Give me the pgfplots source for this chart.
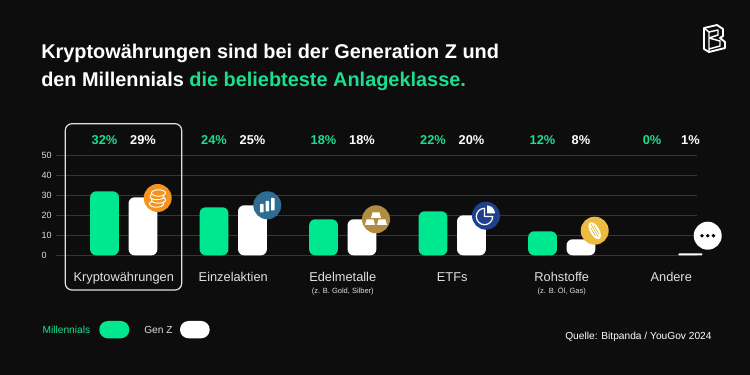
\documentclass[border=0pt]{standalone}
\usepackage{pgfplots}
\pgfplotsset{compat=1.18}
\usepackage{fontspec}
\setmainfont{Liberation Sans}
\definecolor{bg}{HTML}{0D0D0D}
\definecolor{mint}{HTML}{00E88F}
\definecolor{mintt}{HTML}{1ADF92}
\definecolor{gridc}{HTML}{363636}
\definecolor{ltxt}{HTML}{E0E0E0}
\definecolor{HTMLorange}{HTML}{F39420}
\definecolor{HTMLblue}{HTML}{2F6C92}
\definecolor{HTMLgold}{HTML}{B08D40}
\definecolor{HTMLnavy}{HTML}{1F3F8F}
\definecolor{HTMLyellow}{HTML}{EDBB3F}
\newcommand{\px}[1]{\fontsize{\dimexpr#1pt*3/4\relax}{\dimexpr#1pt*9/10\relax}\selectfont}
\newcommand{\subl}[1]{\\[-2.4pt]{\px{7.5}\color{ltxt}#1}}
\pgfplotstableread{
k val
0 32
1 24
2 18
3 22
4 12
}\millennials
\pgfplotstableread{
k val
5 0
}\millennialsother
\pgfplotstableread{
k val
0 29
1 25
2 18
3 20
4 8
}\genz
\pgfplotstableread{
k val
5 1
}\genzother
\begin{document}
\begin{tikzpicture}
\useasboundingbox (0,0) rectangle (562.5pt,281.25pt);
\fill[bg] (0,0) rectangle (562.5pt,281.25pt);
\begin{axis}[
  at={(42pt,89.775pt)}, anchor=south west,
  scale only axis, width=480.75pt, height=75pt,
  xmin=-0.6187, xmax=5.2352, ymin=0, ymax=50,
  clip=false,
  axis line style={draw=none},
  ytick={0,10,20,30,40,50},
  ymajorgrids, grid style={gridc, line width=0.6pt},
  major tick length=0pt,
  xtick={0,1,2,3,4,5},
  xticklabels={{Kryptowährungen\subl{~}},{Einzelaktien\subl{~}},
    {Edelmetalle\subl{(z. B. Gold, Silber)}},
    {ETFs\subl{~}},
    {Rohstoffe\subl{(z. B. Öl, Gas)}},
    {Andere\subl{~}}},
  xticklabel style={font=\px{12.8}, text=ltxt, align=center, anchor=north, yshift=-12.5pt, inner sep=0pt,
    execute at begin node=\strut},
  yticklabel style={font=\px{9}, text=ltxt, anchor=west, inner sep=0pt, xshift=-11pt},
  /pgf/number format/assume math mode=true,
  ybar, bar width=21.6pt,
  visualization depends on={y \as \yval},
  nodes near coords={\pgfmathprintnumber{\pgfplotspointmeta}\%},
  every node near coord/.append style={font=\bfseries\px{12.8}, anchor=center, inner sep=0pt,
    shift={(0pt,{(57.6-\yval)*1.5pt})}},
]
\addplot[bar shift=-14.4pt, fill=mint, draw=none, rounded corners=4.5pt,
  nodes near coords style={text=mintt}] table[x=k,y=val] {\millennials};
\addplot[bar shift=14.4pt, fill=white, draw=none, rounded corners=4.5pt,
  nodes near coords style={text=white}] table[x=k,y=val] {\genz};
\addplot[bar shift=-14.4pt, fill=none, draw=none,
  nodes near coords style={text=mintt}] table[x=k,y=val] {\millennialsother};
\addplot[bar shift=14.4pt, fill=white, draw=none, rounded corners=0.6pt, bar width=18pt,
  nodes near coords style={text=white}] table[x=k,y=val] {\genzother};
\end{axis}
\begin{scope}[shift={(0,281.25pt)}, x=0.75pt, y=-0.75pt]
  % highlight
  \draw[ltxt, line width=0.9pt, rounded corners=5pt] (65.3,123.7) rectangle (181.7,290);
  % title
  \node[anchor=base west, inner sep=0, text=white, font=\bfseries\px{19.9}] at (41,59) {Kryptowährungen sind bei der Generation Z und};
  \node[anchor=base west, inner sep=0, text=white, font=\bfseries\px{19.9}] at (41,87) {den Millennials \textcolor{mintt}{die beliebteste Anlageklasse.}};
  % icons
  \fill[HTMLorange] (157.7,198) circle (14);
  \foreach \yy/\xx in {204/156.5,200/158.5,196.5/157,193/158.5}{
    \draw[white, line width=0.7pt, fill=HTMLorange] (\xx,\yy) ellipse (7 and 3.2);
  }
  \fill[HTMLblue] (267.3,205.3) circle (14);
  \fill[white, rounded corners=0.5pt] (260,204) rectangle (263.5,212.5);
  \fill[white, rounded corners=0.5pt] (265.5,201) rectangle (269,211.5);
  \fill[white, rounded corners=0.5pt] (271,198) rectangle (274.5,210.5);
  \fill[HTMLgold] (376,219.3) circle (14);
  \fill[white] (372.5,212.5) -- (379.5,212.5) -- (381,218) -- (371,218) -- cycle;
  \fill[white] (366.5,219.5) -- (373.5,219.5) -- (375,225) -- (365,225) -- cycle;
  \fill[white] (378.5,219.5) -- (385.5,219.5) -- (387,225) -- (377,225) -- cycle;
  \fill[HTMLnavy] (486,215.7) circle (14);
  \draw[white, line width=0.9pt, line join=round] (492.7,216.5) arc[start angle=0, end angle=270, radius=8.2] -- (484.5,216.5) -- cycle;
  \fill[white] (487,213.5) -- (495,213.5) arc[start angle=0, end angle=-90, radius=8] -- cycle;
  \fill[HTMLyellow] (594.7,230.7) circle (14);
  \begin{scope}[rotate around={-60:(594.7,230.7)}]
    \fill[white] (594.7,230.7) ellipse (9.5 and 4.6);
    \draw[HTMLyellow, line width=0.5pt] (587,230.7) -- (602,230.7) (590,228.7) -- (600,228.7) (590,232.7) -- (600,232.7);
  \end{scope}
  \fill[white] (707.7,235.7) circle (14);
  \foreach \xx in {702,707.7,713.4}{\fill[black] (\xx,235.7) circle (1.9);}
  % legend
  \node[anchor=west, inner sep=0, text=mintt, font=\px{10.2}] at (42.3,330) {Millennials};
  \fill[mint, rounded corners=6.4pt] (99.3,321) rectangle (129.3,338.3);
  \node[anchor=west, inner sep=0, text=ltxt, font=\px{10.2}] at (144,330) {Gen Z};
  \fill[white, rounded corners=6.4pt] (180,321) rectangle (209.7,338.3);
  \node[anchor=west, inner sep=0, text=white, font=\px{10.2}] at (565,336.5) {Quelle: Bitpanda / YouGov 2024};
  % logo
  \draw[white, line width=1.4pt, line join=round] (704,28) -- (717,25) -- (723,29) -- (723,36) -- (720,38) -- (725,42) -- (725,48) -- (709,52) -- (704,49) -- cycle;
  \draw[white, line width=1.1pt, line join=round] (709,32) -- (709,52) (704,28) -- (709,32) -- (718,30) -- (718,35) -- (709,38) -- (720,41) -- (720,46) -- (709,49);
\end{scope}
\end{tikzpicture}
\end{document}
